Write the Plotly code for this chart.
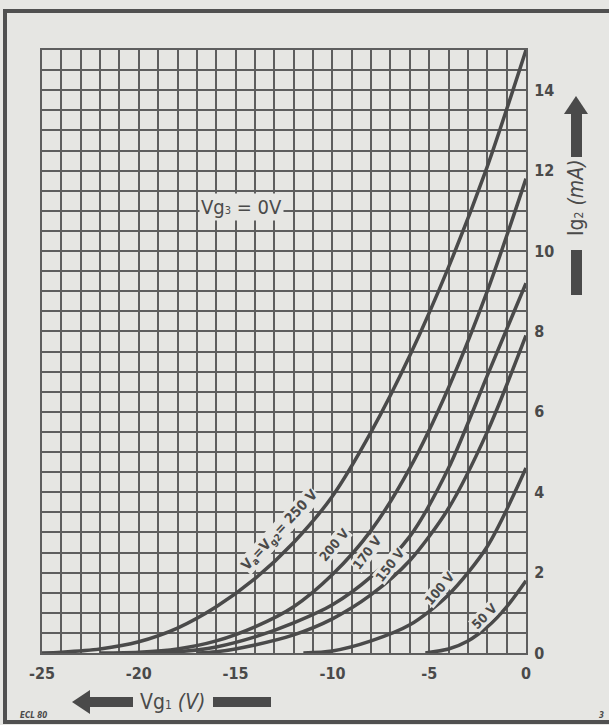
import plotly.graph_objects as go

# ---- data (Vg1 in V, Ig2 in mA) ----
v_250 = [-25, -24, -22, -20, -18, -16, -14, -12, -10, -8, -6, -4, -2, 0]
i_250 = [0, 0.02, 0.1, 0.28, 0.62, 1.15, 1.85, 2.75, 3.9, 5.5, 7.4, 9.6, 12.1, 15.0]

v_200 = [-22, -20, -18, -16, -14, -12, -10, -8, -6, -4, -2, 0]
i_200 = [0, 0.02, 0.1, 0.3, 0.65, 1.15, 1.95, 3.05, 4.6, 6.6, 9.0, 11.8]

v_170 = [-20, -18, -16, -14, -12, -10, -8, -6, -4, -2, 0]
i_170 = [0, 0.03, 0.15, 0.4, 0.75, 1.2, 1.9, 2.9, 4.6, 6.9, 9.2]

v_150 = [-17, -16, -14, -12, -10, -8, -6, -4, -2, 0]
i_150 = [0, 0.03, 0.2, 0.45, 0.85, 1.45, 2.3, 3.6, 5.5, 7.9]

v_100 = [-11.5, -10, -8, -6, -4, -2, 0]
i_100 = [0, 0.05, 0.3, 0.7, 1.45, 2.65, 4.6]

v_50 = [-5.2, -4, -3, -2, -1, 0]
i_50 = [0, 0.1, 0.3, 0.65, 1.15, 1.8]

x_ticks = [-25, -20, -15, -10, -5, 0]
x_tick_text = ["-25", "-20", "-15", "-10", "-5", "0"]
y_ticks = [0, 2, 4, 6, 8, 10, 12, 14]
y_tick_text = ["0", "2", "4", "6", "8", "10", "12", "14"]

curve_labels = ["V<sub>a</sub>=V<sub>g2</sub>= 250 V", "200 V", "170 V", "150 V", "100 V", "50 V"]
label_x = [-12.7, -9.9, -8.2, -7.0, -4.45, -2.15]
label_y = [3.05, 2.7, 2.5, 2.2, 1.6, 0.9]
label_angle = [-47, -50, -53, -52, -50, -45]
label_size = [14, 13, 13, 13, 13, 13]

BG = "#e6e6e3"
INK = "#4a4a4a"
GRID = "#5e5e5e"
FONT = "DejaVu Sans Condensed, Liberation Sans Narrow, Roboto Condensed, sans-serif"

W, H = 609, 725
L, R, T, B = 42, 526, 50, 653


def px(x, y):
    return (x - L) / (R - L), (B - y) / (B - T)


fig = go.Figure()
for v, i in [(v_250, i_250), (v_200, i_200), (v_170, i_170), (v_150, i_150), (v_100, i_100), (v_50, i_50)]:
    fig.add_trace(go.Scatter(x=v, y=i, mode="lines", line=dict(color=INK, width=3.5, shape="spline", smoothing=0.8),
                             hoverinfo="skip", showlegend=False))

for txt, xx, yy, ang, sz in zip(curve_labels, label_x, label_y, label_angle, label_size):
    fig.add_annotation(x=xx, y=yy, text="<b>" + txt + "</b>", textangle=ang, showarrow=False,
                       xanchor="center", yanchor="middle",
                       font=dict(family=FONT, size=sz, color=INK), bgcolor=BG, borderpad=0)

fig.add_annotation(x=-14.67, y=11.1, text="Vg<span style='font-size:11px'>3</span> = 0V", showarrow=False,
                   xanchor="center", yanchor="middle",
                   font=dict(family=FONT, size=20, color=INK), bgcolor=BG, borderpad=1)

shapes = []


def poly(points):
    path = ""
    for k, (x, y) in enumerate(points):
        xp, yp = px(x, y)
        path += ("M" if k == 0 else "L") + f"{xp:.5f},{yp:.5f} "
    return path + "Z"


def add_poly(points):
    shapes.append(dict(type="path", xref="paper", yref="paper", path=poly(points),
                       fillcolor=INK, line=dict(width=0), layer="above"))


# vertical arrow (Ig2)
add_poly([(576, 96), (588, 114), (564, 114)])
add_poly([(571, 113), (582, 113), (582, 157), (571, 157)])
add_poly([(571, 250), (582, 250), (582, 295), (571, 295)])
# horizontal arrow (Vg1)
add_poly([(72, 702), (90, 690), (90, 714)])
add_poly([(89, 697), (133, 697), (133, 707), (89, 707)])
add_poly([(213, 697), (271, 697), (271, 707), (213, 707)])

# outer frame
x0, y0 = px(5, 11)
x1, y1 = px(625, 722)
shapes.append(dict(type="rect", xref="paper", yref="paper", x0=x0, y0=y1, x1=x1, y1=y0,
                   line=dict(color="#505050", width=4), layer="above"))

xa, ya = px(576, 198)
fig.add_annotation(xref="paper", yref="paper", x=xa, y=ya, xanchor="center", yanchor="middle",
                   text="Ig<span style='font-size:12px'>2</span> <i>(mA)</i>",
                   textangle=-90, showarrow=False, font=dict(family=FONT, size=21, color=INK))
xa, ya = px(172, 702)
fig.add_annotation(xref="paper", yref="paper", x=xa, y=ya, xanchor="center", yanchor="middle",
                   text="Vg<span style='font-size:12px'>1</span> <i>(V)</i>",
                   showarrow=False, font=dict(family=FONT, size=21, color=INK))
xa, ya = px(33, 715)
fig.add_annotation(xref="paper", yref="paper", x=xa, y=ya, xanchor="center", yanchor="middle",
                   text="<b><i>ECL 80</i></b>",
                   showarrow=False, font=dict(family=FONT, size=8, color=INK))
xa, ya = px(601, 715)
fig.add_annotation(xref="paper", yref="paper", x=xa, y=ya, xanchor="center", yanchor="middle",
                   text="<b><i>3</i></b>",
                   showarrow=False, font=dict(family=FONT, size=8, color=INK))

fig.update_layout(
    width=W, height=H, margin=dict(l=L, r=W - R, t=T, b=H - B),
    paper_bgcolor=BG, plot_bgcolor=BG, shapes=shapes,
    xaxis=dict(range=[-25, 0], tickvals=x_ticks, ticktext=x_tick_text, showgrid=True, gridcolor=GRID, gridwidth=2,
               minor=dict(dtick=1, showgrid=True, gridcolor=GRID, gridwidth=1.5, ticks=""),
               zeroline=False, showline=True, linecolor=GRID, linewidth=2, mirror=True,
               ticks="outside", ticklen=5, tickcolor="rgba(0,0,0,0)",
               tickfont=dict(family=FONT, size=16, color=INK, weight="bold")),
    yaxis=dict(range=[0, 15], side="right", tickvals=y_ticks, ticktext=y_tick_text, showgrid=True, gridcolor=GRID,
               gridwidth=1.8, minor=dict(dtick=0.5, showgrid=True, gridcolor=GRID, gridwidth=1.5, ticks=""),
               zeroline=False, showline=True, linecolor=GRID, linewidth=2, mirror=True,
               ticks="outside", ticklen=3, tickcolor="rgba(0,0,0,0)",
               tickfont=dict(family=FONT, size=16, color=INK, weight="bold")),
)

fig.write_html("out.html", config={"displayModeBar": False},
               post_script="document.body.style.margin='0';")
